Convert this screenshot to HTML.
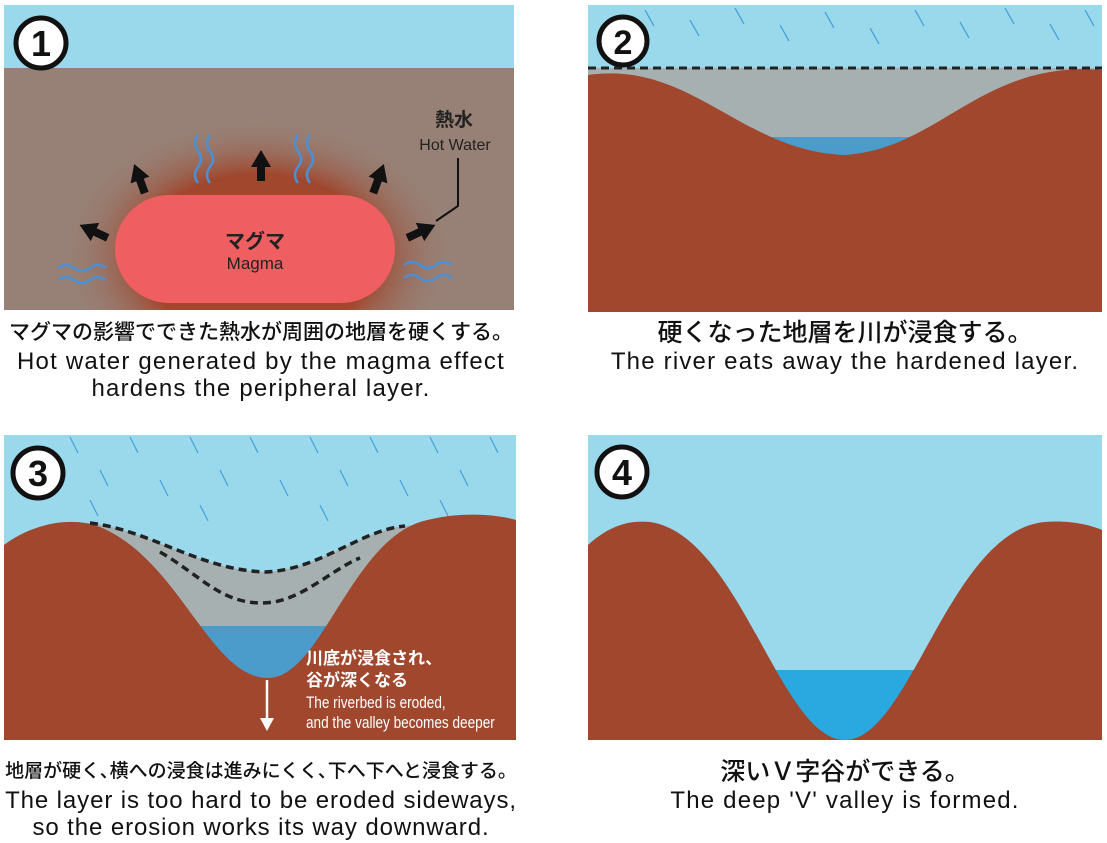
<!DOCTYPE html>
<html><head><meta charset="utf-8"><style>
body{margin:0;background:#fff;width:1107px;height:843px;overflow:hidden;position:relative;font-family:"Liberation Sans","Noto Sans CJK JP",sans-serif}
svg{position:absolute;left:0;top:0}
.cap{position:absolute;text-align:center;color:#111;font-size:24px;letter-spacing:1.2px;line-height:27px;width:560px;white-space:nowrap}
.jp{font-family:"Noto Sans CJK JP",sans-serif;font-weight:500;font-size:21px;line-height:30px;letter-spacing:0;margin-bottom:2px}
</style></head><body>
<svg width="1107" height="843" viewBox="0 0 1107 843">
<defs>
<radialGradient id="halo" cx="0.5" cy="0.5" r="0.5">
<stop offset="0.6" stop-color="#a0472e"/><stop offset="1" stop-color="#978075" stop-opacity="0"/>
</radialGradient>
<clipPath id="c1"><rect x="4" y="5" width="510" height="305"/></clipPath>
<clipPath id="c3"><rect x="4" y="435" width="512" height="305"/></clipPath>
</defs>
<!-- Panel 1 -->
<g clip-path="url(#c1)">
<rect x="4" y="5" width="510" height="305" fill="#9ad8ec"/>
<rect x="4" y="68" width="510" height="242" fill="#978075"/>
<ellipse cx="258" cy="255" rx="195" ry="135" fill="url(#halo)"/>
<rect x="115" y="195" width="280" height="108" rx="54" fill="#ef5f62"/>
<g fill="none" stroke="#4a90d6" stroke-width="2.5">
<path d="M198 135 q-6 8 0 16 q6 8 0 16 q-6 8 0 16"/><path d="M210 135 q-6 8 0 16 q6 8 0 16 q-6 8 0 16"/>
<path d="M298 135 q-6 8 0 16 q6 8 0 16 q-6 8 0 16"/><path d="M310 135 q-6 8 0 16 q6 8 0 16 q-6 8 0 16"/>
<path d="M58 268 q8 -6 16 0 q8 6 16 0 q8 -6 16 0"/><path d="M58 280 q8 -6 16 0 q8 6 16 0 q8 -6 16 0"/>
<path d="M404 265 q8 -6 16 0 q8 6 16 0 q8 -6 16 0"/><path d="M404 278 q8 -6 16 0 q8 6 16 0 q8 -6 16 0"/>
</g>
<g fill="#111">
<rect x="257" y="165" width="8" height="16"/><polygon points="251,167 261,150 271,167"/>
<g transform="rotate(-20 140 180)"><rect x="136" y="178" width="8" height="16"/><polygon points="130,180 140,163 150,180"/></g>
<g transform="rotate(20 378 180)"><rect x="374" y="178" width="8" height="16"/><polygon points="368,180 378,163 388,180"/></g>
<g transform="rotate(-65 95 232)"><rect x="91" y="230" width="8" height="16"/><polygon points="85,232 95,215 105,232"/></g>
<g transform="rotate(65 420 232)"><rect x="416" y="230" width="8" height="16"/><polygon points="410,232 420,215 430,232"/></g>
</g>
<polyline points="436,221 458,206 458,158" fill="none" stroke="#111" stroke-width="2"/>
<text x="454" y="126" text-anchor="middle" font-family="Noto Sans CJK JP,sans-serif" font-weight="700" font-size="19" fill="#222">熱水</text>
<text x="455" y="150" text-anchor="middle" font-size="16" fill="#222">Hot Water</text>
<text x="255" y="248" text-anchor="middle" font-family="Noto Sans CJK JP,sans-serif" font-weight="700" font-size="20" fill="#222">マグマ</text>
<text x="255" y="269" text-anchor="middle" font-size="17" fill="#222">Magma</text>
<circle cx="41" cy="43" r="25" fill="#fff" stroke="#111" stroke-width="5"/>
<text x="41" y="56" text-anchor="middle" font-size="36" font-weight="700" fill="#111">1</text>
</g>
<!-- Panel 2 -->
<rect x="588" y="5" width="514" height="307" fill="#9ad8ec"/>
<g stroke="#4aa3d8" stroke-width="1.3">
<path d="M645 10l9 16M690 20l9 16M735 8l9 16M780 25l9 16M825 12l9 16M870 28l9 16M915 10l9 16M960 22l9 16M1005 8l9 16M1050 24l9 16M1085 10l9 16"/>
</g>
<rect x="588" y="68" width="514" height="100" fill="#a7b0b0"/>
<rect x="588" y="137" width="514" height="40" fill="#4b9ccb"/>
<path d="M588 75 C690 60 740 150 843 155 C940 150 980 60 1102 70 L1102 312 L588 312Z" fill="#a0472e"/>
<line x1="588" y1="68" x2="1102" y2="68" stroke="#222" stroke-width="3" stroke-dasharray="8,5"/>
<circle cx="623" cy="41" r="24" fill="#fff" stroke="#111" stroke-width="5"/>
<text x="623" y="54" text-anchor="middle" font-size="34" font-weight="700" fill="#111">2</text>
<!-- Panel 3 -->
<g clip-path="url(#c3)">
<rect x="4" y="435" width="512" height="305" fill="#9ad8ec"/>
<g stroke="#4aa3d8" stroke-width="1.3">
<path d="M70 437l8 16M130 437l8 16M190 437l8 16M250 437l8 16M310 437l8 16M370 437l8 16M430 437l8 16M490 437l8 16M100 470l8 16M160 480l8 16M220 470l8 16M280 480l8 16M340 470l8 16M400 480l8 16M460 470l8 16M90 500l8 16M200 505l8 16M320 505l8 16M440 500l8 16"/>
</g>
<path d="M60 523 L90 523 C150 530 200 570 265 572 C320 570 360 530 405 526 L470 520 L470 740 L60 740Z" fill="#a7b0b0"/>
<rect x="150" y="626" width="250" height="80" fill="#4b9ccb"/>
<path d="M4 545 C30 525 70 515 100 527 C180 560 210 678 268 678 C320 678 350 545 420 522 C460 510 500 515 516 520 L516 740 L4 740Z" fill="#a0472e"/>
<path d="M90 523 C150 530 200 570 265 572 C320 570 360 530 405 526" fill="none" stroke="#222" stroke-width="3.5" stroke-dasharray="8,5"/>
<path d="M160 552 C200 575 220 603 262 603 C300 603 330 570 360 558" fill="none" stroke="#222" stroke-width="3.5" stroke-dasharray="8,5"/>
<line x1="267" y1="680" x2="267" y2="720" stroke="#fff" stroke-width="2.5"/>
<polygon points="260,718 274,718 267,731" fill="#fff"/>
<text x="306" y="664" font-family="Noto Sans CJK JP,sans-serif" font-weight="700" font-size="17" fill="#fff">川底が浸食され、</text>
<text x="306" y="686" font-family="Noto Sans CJK JP,sans-serif" font-weight="700" font-size="17" fill="#fff">谷が深くなる</text>
<text x="306" y="708" font-size="17" fill="#fff" transform="translate(306 0) scale(0.8 1) translate(-306 0)">The riverbed is eroded,</text>
<text x="306" y="728" font-size="17" fill="#fff" transform="translate(306 0) scale(0.8 1) translate(-306 0)">and the valley becomes deeper</text>
<circle cx="38" cy="473" r="25" fill="#fff" stroke="#111" stroke-width="5"/>
<text x="38" y="486" text-anchor="middle" font-size="36" font-weight="700" fill="#111">3</text>
</g>
<!-- Panel 4 -->
<rect x="588" y="435" width="514" height="305" fill="#9ad8ec"/>
<rect x="760" y="670" width="170" height="70" fill="#29a9e0"/>
<path d="M588 545 C610 525 630 520 650 522 C740 535 780 740 845 740 C910 740 950 530 1045 522 C1070 520 1090 525 1102 530 L1102 740 L588 740Z" fill="#a0472e"/>
<circle cx="622" cy="472" r="25" fill="#fff" stroke="#111" stroke-width="5"/>
<text x="622" y="485" text-anchor="middle" font-size="36" font-weight="700" fill="#111">4</text>
</svg>
<div class="cap" style="left:-19px;top:316px"><div class="jp">マグマの影響でできた熱水が周囲の地層を硬くする。</div>Hot water generated by the magma effect<br>hardens the peripheral layer.</div>
<div class="cap" style="left:565px;top:316px"><div class="jp" style="font-size:25px">硬くなった地層を川が浸食する。</div>The river eats away the hardened layer.</div>
<div class="cap" style="left:-19px;top:755px;letter-spacing:0.9px"><div class="jp" style="font-size:19px">地層が硬く､横への浸食は進みにくく､下へ下へと浸食する。</div>The layer is too hard to be eroded sideways,<br>so the erosion works its way downward.</div>
<div class="cap" style="left:565px;top:755px"><div class="jp" style="font-size:25px">深いＶ字谷ができる。</div>The deep 'V' valley is formed.</div>
</body></html>
